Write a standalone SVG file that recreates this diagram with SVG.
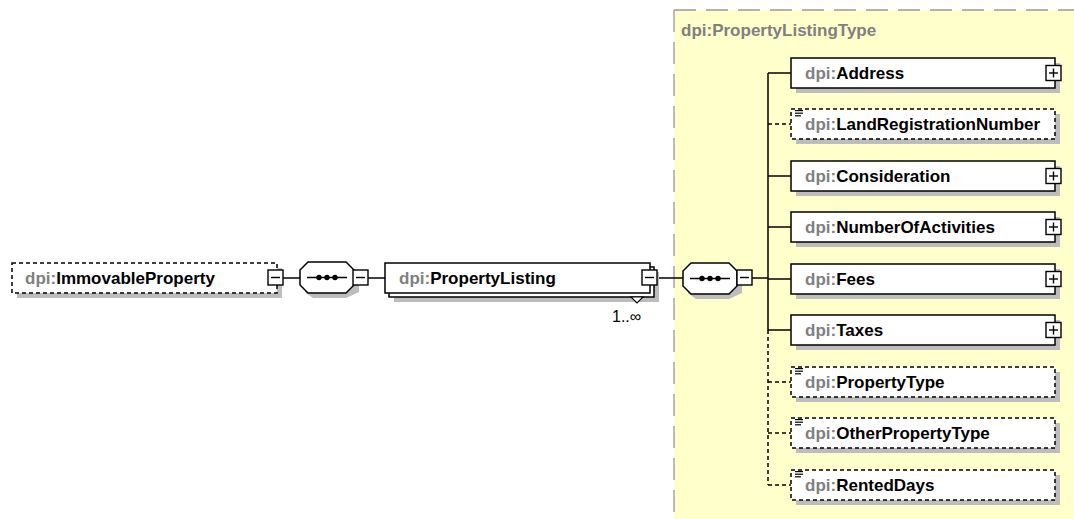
<svg xmlns="http://www.w3.org/2000/svg" width="1074" height="519" viewBox="0 0 1074 519">
  <defs>
    <style>
      .lbl { font-family: "Liberation Sans", Arial, sans-serif; font-weight: bold; font-size: 17px; fill: #000; }
      .ns { fill: #808080; }
      .box { fill: #fff; stroke: #000; stroke-width: 1.5; }
      .opt { stroke-dasharray: 4 3; }
      .shadow { fill: #bdbdbd; }
      .btn { fill: #fff; stroke: #000; stroke-width: 1.4; }
      .sign { stroke: #000; stroke-width: 1.4; fill: none; }
      .wire { stroke: #000; stroke-width: 1.5; fill: none; }
      .wire-opt { stroke: #000; stroke-width: 1.5; fill: none; stroke-dasharray: 4 3; }
      .seq { fill: #fff; stroke: #000; stroke-width: 1.5; }
      .icon { stroke: #000; stroke-width: 1.2; }
    </style>
    <!-- sequence compositor: octagon with dotted bar -->
    <g id="seq-shape">
      <polygon class="shadow" points="13,5 46,5 59,13 59,30 46,36 13,36 5,30 5,13"/>
      <polygon class="seq" points="8,0 46,0 54,8 54,23 46,31 8,31 0,23 0,8"/>
      <line x1="7" y1="15.5" x2="47" y2="15.5" stroke="#000" stroke-width="1.4"/>
      <circle cx="19" cy="15.5" r="2.7"/>
      <circle cx="27" cy="15.5" r="2.7"/>
      <circle cx="35" cy="15.5" r="2.7"/>
    </g>
    <g id="minus">
      <rect class="btn" x="0" y="0" width="15" height="15"/>
      <line class="sign" x1="3" y1="7.5" x2="12" y2="7.5"/>
    </g>
    <g id="plus">
      <rect class="btn" x="0" y="0" width="15" height="15"/>
      <line class="sign" x1="3" y1="7.5" x2="12" y2="7.5"/>
      <line class="sign" x1="7.5" y1="3" x2="7.5" y2="12"/>
    </g>
    <g id="simple-icon">
      <line class="icon" x1="0" y1="0.6" x2="8" y2="0.6"/>
      <line class="icon" x1="0" y1="3.2" x2="8" y2="3.2"/>
      <line class="icon" x1="0" y1="5.8" x2="6" y2="5.8"/>
    </g>
  </defs>

  <rect width="1074" height="519" fill="#fff"/>

  <!-- complex type area -->
  <g id="type-PropertyListingType">
    <rect x="674" y="10" width="420" height="530" fill="#ffffcc"/>
    <line x1="674" y1="10" x2="1074" y2="10" stroke="#999" stroke-width="1.3" stroke-dasharray="22 10"/>
    <line x1="674" y1="10" x2="674" y2="516" stroke="#999" stroke-width="1.3" stroke-dasharray="22 10"/>
    <text x="681" y="36" class="lbl ns">dpi:PropertyListingType</text>
  </g>

  <!-- connectors -->
  <g id="connectors">
    <line class="wire" x1="283" y1="278" x2="300" y2="278"/>
    <line class="wire" x1="368" y1="278" x2="385" y2="278"/>
    <line class="wire" x1="657" y1="278" x2="683" y2="278"/>
    <line class="wire" x1="752" y1="278" x2="768" y2="278"/>
    <line class="wire" x1="768" y1="73" x2="768" y2="330"/>
    <line class="wire-opt" x1="768" y1="330" x2="768" y2="485"/>
    <line class="wire" x1="768" y1="73" x2="791" y2="73"/>
    <line class="wire-opt" x1="768" y1="124" x2="791" y2="124"/>
    <line class="wire" x1="768" y1="176" x2="791" y2="176"/>
    <line class="wire" x1="768" y1="227" x2="791" y2="227"/>
    <line class="wire" x1="768" y1="279" x2="791" y2="279"/>
    <line class="wire" x1="768" y1="330" x2="791" y2="330"/>
    <line class="wire-opt" x1="768" y1="382" x2="791" y2="382"/>
    <line class="wire-opt" x1="768" y1="433" x2="791" y2="433"/>
    <line class="wire-opt" x1="768" y1="485" x2="791" y2="485"/>
  </g>

  <!-- root element -->
  <g id="node-ImmovableProperty">
    <rect class="shadow" x="17" y="268" width="265" height="30"/>
    <rect class="box opt" x="12" y="263" width="265" height="30"/>
    <text x="25" y="284" class="lbl"><tspan class="ns">dpi:</tspan>ImmovableProperty</text>
    <use href="#minus" x="268" y="270"/>
  </g>

  <g id="seq-1">
    <use href="#seq-shape" x="300" y="262"/>
    <use href="#minus" x="353" y="270"/>
  </g>

  <g id="node-PropertyListing">
    <rect class="shadow" x="394" y="272" width="265" height="30"/>
    <rect class="box" x="389" y="267" width="265" height="30"/>
    <rect class="box" x="385" y="263" width="265" height="30"/>
    <text x="399" y="284" class="lbl"><tspan class="ns">dpi:</tspan>PropertyListing</text>
    <use href="#minus" x="642" y="270"/>
    <polygon points="631,297 643,297 637,303" fill="#fff" stroke="#000" stroke-width="1.2"/>
    <text x="612" y="322" style="font-family:'Liberation Sans',Arial,sans-serif;font-size:16px">1..∞</text>
  </g>

  <g id="seq-2">
    <use href="#seq-shape" x="683" y="263"/>
    <use href="#minus" x="737" y="270"/>
  </g>

  <!-- child elements -->
  <g id="node-Address">
    <rect class="shadow" x="796" y="63" width="264" height="30"/>
    <rect class="box" x="791" y="58" width="264" height="30"/>
    <text x="805" y="79" class="lbl"><tspan class="ns">dpi:</tspan>Address</text>
    <use href="#plus" x="1046" y="65.5"/>
  </g>
  <g id="node-LandRegistrationNumber">
    <rect class="shadow" x="796" y="114" width="264" height="30"/>
    <rect class="box opt" x="791" y="109" width="264" height="30"/>
    <use href="#simple-icon" x="795" y="110"/>
    <text x="805" y="130" class="lbl"><tspan class="ns">dpi:</tspan>LandRegistrationNumber</text>
  </g>
  <g id="node-Consideration">
    <rect class="shadow" x="796" y="166" width="264" height="30"/>
    <rect class="box" x="791" y="161" width="264" height="30"/>
    <text x="805" y="182" class="lbl"><tspan class="ns">dpi:</tspan>Consideration</text>
    <use href="#plus" x="1046" y="168.5"/>
  </g>
  <g id="node-NumberOfActivities">
    <rect class="shadow" x="796" y="217" width="264" height="30"/>
    <rect class="box" x="791" y="212" width="264" height="30"/>
    <text x="805" y="233" class="lbl"><tspan class="ns">dpi:</tspan>NumberOfActivities</text>
    <use href="#plus" x="1046" y="219.5"/>
  </g>
  <g id="node-Fees">
    <rect class="shadow" x="796" y="269" width="264" height="30"/>
    <rect class="box" x="791" y="264" width="264" height="30"/>
    <text x="805" y="285" class="lbl"><tspan class="ns">dpi:</tspan>Fees</text>
    <use href="#plus" x="1046" y="271.5"/>
  </g>
  <g id="node-Taxes">
    <rect class="shadow" x="796" y="320" width="264" height="30"/>
    <rect class="box" x="791" y="315" width="264" height="30"/>
    <text x="805" y="336" class="lbl"><tspan class="ns">dpi:</tspan>Taxes</text>
    <use href="#plus" x="1046" y="322.5"/>
  </g>
  <g id="node-PropertyType">
    <rect class="shadow" x="796" y="372" width="264" height="30"/>
    <rect class="box opt" x="791" y="367" width="264" height="30"/>
    <use href="#simple-icon" x="795" y="368"/>
    <text x="805" y="388" class="lbl"><tspan class="ns">dpi:</tspan>PropertyType</text>
  </g>
  <g id="node-OtherPropertyType">
    <rect class="shadow" x="796" y="423" width="264" height="30"/>
    <rect class="box opt" x="791" y="418" width="264" height="30"/>
    <use href="#simple-icon" x="795" y="419"/>
    <text x="805" y="439" class="lbl"><tspan class="ns">dpi:</tspan>OtherPropertyType</text>
  </g>
  <g id="node-RentedDays">
    <rect class="shadow" x="796" y="475" width="264" height="30"/>
    <rect class="box opt" x="791" y="470" width="264" height="30"/>
    <use href="#simple-icon" x="795" y="471"/>
    <text x="805" y="491" class="lbl"><tspan class="ns">dpi:</tspan>RentedDays</text>
  </g>
</svg>
